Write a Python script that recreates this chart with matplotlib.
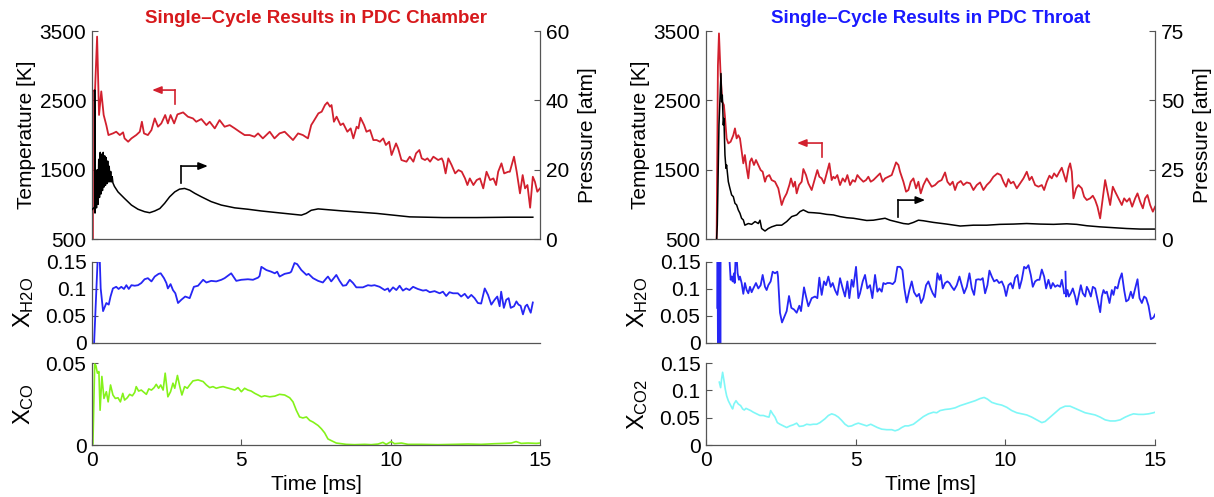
import numpy as np
import matplotlib.pyplot as plt

plt.rcParams['font.family'] = ['Liberation Sans', 'DejaVu Sans']
plt.rcParams['mathtext.fontset'] = 'custom'
plt.rcParams['mathtext.rm'] = 'Liberation Sans'
plt.rcParams['mathtext.it'] = 'Liberation Sans'

# ---------------- PDC chamber ----------------
t_T_ch = [0.03, 0.03, 0.10, 0.17, 0.235, 0.31, 0.39, 0.48, 0.55, 0.70, 0.81, 0.93, 1.04, 1.09, 1.21,
          1.32, 1.48, 1.60, 1.67, 1.74, 1.87, 1.99, 2.10, 2.21, 2.32, 2.45, 2.54, 2.63, 2.75, 2.86,
          3.05, 3.21, 3.38, 3.49, 3.66, 3.83, 3.94, 4.11, 4.27, 4.44, 4.61, 4.78, 4.94, 5.11, 5.28,
          5.44, 5.56, 5.72, 5.95, 6.11, 6.28, 6.45, 6.56, 6.73, 6.90, 7.06, 7.23, 7.34, 7.41, 7.58,
          7.69, 7.80, 7.88, 7.97, 8.02, 8.10, 8.19, 8.32, 8.41, 8.55, 8.66, 8.75, 8.86, 8.92, 8.99,
          9.11, 9.19, 9.31, 9.42, 9.53, 9.64, 9.75, 9.84, 9.95, 10.03, 10.18, 10.25, 10.36, 10.53,
          10.64, 10.76, 10.85, 10.96, 11.04, 11.15, 11.23, 11.32, 11.43, 11.59, 11.71, 11.76, 11.84,
          11.93, 12.04, 12.16, 12.27, 12.38, 12.49, 12.57, 12.65, 12.77, 12.88, 12.99, 13.10, 13.21,
          13.33, 13.44, 13.53, 13.60, 13.71, 13.80, 13.94, 13.99, 14.13, 14.22, 14.33, 14.42, 14.50,
          14.58, 14.67, 14.76, 14.83, 14.91, 15.0]
T_ch = [500, 2640, 2640, 3420, 2290, 2630, 2290, 2140, 2000, 2024, 2048, 2000, 2039, 1952, 1904,
        1952, 2000, 2048, 2192, 2024, 2000, 2072, 2240, 2120, 2168, 2289, 2168, 2289, 2168, 2298,
        2327, 2265, 2240, 2192, 2231, 2144, 2192, 2096, 2216, 2120, 2144, 2096, 2048, 2000, 2000,
        1976, 2024, 1952, 2048, 1952, 2024, 2048, 2000, 1928, 2024, 2000, 1952, 2144, 2192, 2313,
        2337, 2433, 2471, 2409, 2433, 2192, 2265, 2144, 2168, 2048, 2096, 1952, 2120, 2096, 2250,
        2144, 2048, 2072, 1928, 1928, 1904, 1952, 1856, 1904, 1712, 1880, 1808, 1640, 1616,
        1688, 1616, 1736, 1784, 1664, 1640, 1664, 1616, 1688, 1640, 1664, 1616, 1447,
        1664, 1568, 1447, 1495, 1471, 1375, 1279, 1375, 1279, 1351, 1375, 1231, 1471,
        1351, 1375, 1279, 1471, 1592, 1447, 1471, 1471, 1688, 1471, 1159, 1423, 1231,
        1279, 952, 1399, 1327, 1183, 1231]

t_P_ch = [0.00, 0.06, 0.09, 0.09, 0.10, 0.125, 0.15, 0.175, 0.20, 0.225, 0.25, 0.275, 0.30, 0.325,
          0.35, 0.375, 0.40, 0.425, 0.45, 0.475, 0.50, 0.525, 0.55, 0.575, 0.60, 0.625, 0.65, 0.675,
          0.70, 0.75, 0.87, 1.09, 1.32, 1.54, 1.76, 1.93, 2.10, 2.27, 2.43, 2.60, 2.77, 2.93, 3.10,
          3.27, 3.44, 3.66, 3.99, 4.33, 4.78, 5.22, 5.67, 6.11, 6.56, 7.01, 7.17, 7.34, 7.57, 8.41,
          9.53, 10.64, 11.76, 12.88, 13.99, 14.76]
P_ch = [8.5, 9.0, 9.2, 43.0, 7.5, 14, 9, 20, 10, 23, 12, 25, 13, 24.5,
        14, 25, 15, 24, 15.5, 23.5, 16, 22.5, 16.5, 21, 16.5, 19.5, 16.5, 18,
        16.2, 15.2, 13.6, 11.7, 9.8, 8.6, 7.9, 7.6, 8.1, 8.8, 10.3, 12.2, 13.6, 14.4, 14.6,
        14.1, 13.2, 12.2, 10.8, 9.8, 9.0, 8.6, 8.1, 7.7, 7.3, 6.9, 7.4, 8.3, 8.7, 8.1,
        7.4, 6.4, 6.2, 6.2, 6.3, 6.3]

t_h2o_ch = [0.07, 0.20, 0.25, 0.29, 0.37, 0.48, 0.56, 0.62, 0.70, 0.81, 0.89, 0.98, 1.07, 1.15, 1.23,
            1.32, 1.43, 1.54, 1.65, 1.76, 1.87, 1.99, 2.10, 2.23, 2.30, 2.41, 2.49, 2.54, 2.63, 2.71,
            2.79, 2.88, 2.99, 3.12, 3.27, 3.41, 3.55, 3.72, 3.83, 3.99, 4.16, 4.33, 4.44, 4.66, 4.83,
            5.00, 5.22, 5.39, 5.56, 5.61, 5.67, 5.84, 6.00, 6.12, 6.20, 6.28, 6.45, 6.62, 6.67, 6.78,
            6.87, 7.01, 7.18, 7.25, 7.40, 7.57, 7.73, 7.85, 7.90, 8.01, 8.18, 8.29, 8.40, 8.51, 8.63,
            8.74, 8.85, 9.07, 9.24, 9.35, 9.46, 9.63, 9.80, 9.91, 9.96, 10.08, 10.19, 10.30, 10.41,
            10.52, 10.63, 10.75, 10.91, 11.08, 11.19, 11.31, 11.47, 11.64, 11.75, 11.86, 11.97, 12.09,
            12.25, 12.36, 12.48, 12.59, 12.70, 12.81, 12.92, 13.03, 13.15, 13.26, 13.37, 13.48, 13.57,
            13.65, 13.70, 13.79, 13.87, 13.95, 14.02, 14.13, 14.21, 14.28, 14.35, 14.43, 14.51, 14.57,
            14.69, 14.76]
h2o_ch = [0.0, 0.17, 0.17, 0.101, 0.059, 0.074, 0.071, 0.086, 0.101, 0.104, 0.100, 0.104, 0.100, 0.107, 0.100,
          0.107, 0.106, 0.107, 0.111, 0.118, 0.120, 0.114, 0.123, 0.128, 0.129, 0.120, 0.111, 0.101, 0.109, 0.098,
          0.092, 0.074, 0.080, 0.086, 0.083, 0.104, 0.106, 0.117, 0.112, 0.115, 0.114, 0.117, 0.120, 0.129, 0.115,
          0.117, 0.118, 0.117, 0.121, 0.124, 0.141, 0.135, 0.132, 0.129, 0.132, 0.123, 0.128, 0.130, 0.132, 0.148,
          0.146, 0.135, 0.126, 0.128, 0.120, 0.115, 0.112, 0.120, 0.123, 0.114, 0.126, 0.115, 0.106, 0.107, 0.117,
          0.111, 0.103, 0.103, 0.107, 0.106, 0.107, 0.104, 0.098, 0.101, 0.095, 0.103, 0.098, 0.106, 0.097,
          0.101, 0.098, 0.104, 0.100, 0.097, 0.098, 0.094, 0.096, 0.092, 0.095, 0.087, 0.094, 0.092,
          0.092, 0.086, 0.091, 0.083, 0.089, 0.083, 0.074, 0.073, 0.101, 0.089, 0.071, 0.080, 0.086,
          0.068, 0.095, 0.065, 0.080, 0.083, 0.065, 0.068, 0.077, 0.071, 0.069, 0.053, 0.068, 0.071,
          0.056, 0.075]

t_co_ch = [0.00, 0.03, 0.09, 0.13, 0.18, 0.23, 0.27, 0.33, 0.40, 0.48, 0.54, 0.62, 0.70, 0.78, 0.87,
           0.95, 1.03, 1.09, 1.18, 1.26, 1.35, 1.43, 1.48, 1.56, 1.65, 1.74, 1.82, 1.90, 1.99, 2.08,
           2.15, 2.23, 2.30, 2.38, 2.45, 2.54, 2.63, 2.71, 2.77, 2.86, 2.94, 3.01, 3.10, 3.19, 3.27,
           3.38, 3.55, 3.72, 3.83, 3.94, 4.05, 4.16, 4.27, 4.39, 4.50, 4.66, 4.78, 4.89, 5.00, 5.11,
           5.22, 5.33, 5.45, 5.56, 5.67, 5.78, 5.95, 6.12, 6.28, 6.45, 6.62, 6.73, 6.84, 6.95, 7.06,
           7.18, 7.29, 7.40, 7.57, 7.68, 7.79, 7.90, 8.01, 8.18, 8.35, 8.51, 8.79, 9.13, 9.35, 9.58,
           9.74, 9.85, 10.02, 10.13, 10.36, 10.58, 11.03, 11.58, 12.14, 12.59, 13.03, 13.48, 13.82,
           14.04, 14.20, 14.37, 14.60, 14.88, 14.99]
co_ch = [0.0, 0.0006, 0.0494, 0.0484, 0.0438, 0.0448, 0.0212, 0.0418, 0.0284, 0.0325, 0.0263, 0.0366,
         0.0305, 0.0284, 0.0288, 0.0263, 0.0315, 0.0274, 0.0288, 0.0309, 0.0300, 0.0321, 0.0356, 0.0329,
         0.0335, 0.0321, 0.0309, 0.0342, 0.0335, 0.0350, 0.0370, 0.0346, 0.0366, 0.0335, 0.0438, 0.0294,
         0.0325, 0.0377, 0.0346, 0.0424, 0.0356, 0.0305, 0.0356, 0.0346, 0.0366, 0.0391, 0.0397, 0.0387,
         0.0366, 0.0350, 0.0356, 0.0346, 0.0352, 0.0356, 0.0350, 0.0342, 0.0335, 0.0350, 0.0325, 0.0346,
         0.0335, 0.0329, 0.0315, 0.0305, 0.0294, 0.0300, 0.0294, 0.0298, 0.0309, 0.0305, 0.0288, 0.0263,
         0.0212, 0.0171, 0.0165, 0.0171, 0.0150, 0.0140, 0.0119, 0.0099, 0.0074, 0.0037, 0.0027, 0.0012,
         0.0008, 0.0004, 0.0002, 0.0004, 0.0002, 0.0006, 0.0016, 0.0004, 0.0021, 0.0008, 0.0012, 0.0004,
         0.0004, 0.0002, 0.0004, 0.0006, 0.0004, 0.0008, 0.0010, 0.0012, 0.0021, 0.0010, 0.0012, 0.0010,
         0.0012]

# ---------------- PDC throat ----------------
t_T_th = [0.357, 0.40, 0.435, 0.49, 0.546, 0.60, 0.635, 0.69, 0.747, 0.825, 0.914, 0.969, 1.025, 1.08,
          1.136, 1.19, 1.248, 1.30, 1.36, 1.415, 1.47, 1.526, 1.604, 1.671, 1.749, 1.827, 1.894,
          1.972, 2.027, 2.117, 2.194, 2.306, 2.417, 2.529, 2.607, 2.696, 2.785, 2.84, 2.918, 2.974,
          3.03, 3.108, 3.197, 3.253, 3.342, 3.42, 3.531, 3.642, 3.72, 3.787, 3.865, 3.943, 4.032,
          4.121, 4.199, 4.255, 4.31, 4.388, 4.478, 4.567, 4.645, 4.723, 4.812, 4.901, 4.979, 5.057,
          5.146, 5.257, 5.346, 5.424, 5.502, 5.591, 5.703, 5.814, 5.903, 5.981, 6.092, 6.204, 6.282,
          6.349, 6.427, 6.482, 6.594, 6.683, 6.761, 6.839, 6.928, 7.017, 7.095, 7.173, 7.262, 7.373,
          7.54, 7.65, 7.76, 7.87, 7.985, 8.063, 8.152, 8.241, 8.319, 8.397, 8.509, 8.598, 8.709,
          8.821, 8.932, 9.043, 9.155, 9.266, 9.377, 9.489, 9.60, 9.734, 9.845, 9.934, 10.023, 10.10,
          10.179, 10.268, 10.38, 10.491, 10.603, 10.714, 10.803, 10.881, 10.992, 11.104, 11.215,
          11.293, 11.382, 11.471, 11.549, 11.627, 11.716, 11.805, 11.883, 11.961, 12.028, 12.106,
          12.162, 12.217, 12.273, 12.362, 12.44, 12.551, 12.629, 12.718, 12.83, 12.919, 12.997,
          13.075, 13.164, 13.253, 13.331, 13.409, 13.498, 13.587, 13.665, 13.776, 13.888, 13.966,
          14.055, 14.144, 14.233, 14.333, 14.411, 14.50, 14.59, 14.667, 14.745, 14.834, 14.924, 15.0]
T_th = [500, 3000, 3466, 2865, 2481, 2433, 2265, 1952, 1880, 1904, 1998, 2096, 1952, 1998,
        1952, 1784, 1592, 1712, 1519, 1375, 1616, 1664, 1568, 1640, 1568, 1495, 1471,
        1327, 1399, 1423, 1351, 1327, 1231, 991, 1087, 1159, 1279, 1375, 1255, 1327,
        1159, 1279, 1327, 1510, 1423, 1303, 1207, 1375, 1495, 1399, 1375, 1303, 1447,
        1592, 1351, 1399, 1375, 1423, 1279, 1375, 1327, 1423, 1279, 1351, 1327, 1423,
        1375, 1327, 1351, 1399, 1327, 1351, 1399, 1447, 1327, 1375, 1399, 1423, 1519,
        1606, 1568, 1471, 1327, 1183, 1207, 1327, 1375, 1231, 1327, 1159, 1279, 1375,
        1255, 1279, 1327, 1351, 1461, 1327, 1279, 1327, 1207, 1303, 1337, 1279, 1317,
        1303, 1207, 1279, 1317, 1207, 1279, 1327, 1399, 1447, 1423, 1327, 1255, 1365,
        1303, 1327, 1231, 1303, 1375, 1471, 1351, 1399, 1279, 1255, 1279,
        1207, 1327, 1414, 1375, 1447, 1399, 1471, 1529, 1423, 1327, 1519,
        1592, 1471, 1087, 1231, 1279, 1231, 1111, 1063, 1087, 1125, 1063,
        967, 798, 1087, 1351, 1183, 991, 1255, 1183, 1087, 991, 1087,
        1039, 1087, 967, 1087, 1159, 1039, 943, 1087, 1135, 991, 895, 967]

t_P_th = [0.357, 0.379, 0.435, 0.502, 0.524, 0.546, 0.58, 0.60, 0.635, 0.669, 0.69, 0.747, 0.80,
          0.858, 0.914, 0.969, 1.025, 1.08, 1.136, 1.19, 1.248, 1.30, 1.415, 1.526, 1.64, 1.749,
          1.805, 1.86, 1.972, 2.083, 2.194, 2.36, 2.53, 2.696, 2.863, 3.03, 3.141, 3.253, 3.42,
          3.587, 3.81, 4.032, 4.255, 4.478, 4.70, 4.923, 5.146, 5.369, 5.591, 5.814, 5.981, 6.148,
          6.371, 6.594, 6.761, 6.928, 7.095, 7.262, 7.484, 7.60, 8.04, 8.49, 8.93, 9.38, 9.82,
          10.27, 10.71, 11.16, 11.61, 12.05, 12.38, 12.72, 13.16, 13.61, 14.05, 14.5, 15.0]
P_th = [0.2, 5.0, 41.1, 59.7, 49.5, 51.9, 41.1, 43.5, 30.3, 25.5, 26.7, 20.7, 18.3,
        15.9, 15.3, 12.9, 12.3, 10.5, 9.3, 7.5, 6.9, 5.0, 5.6, 5.3, 6.3, 5.6,
        6.8, 3.8, 2.9, 3.8, 4.4, 5.0, 5.0, 6.3, 8.1, 8.7, 9.9, 10.5, 9.6,
        9.5, 9.3, 8.9, 8.7, 8.1, 7.7, 7.5, 7.1, 6.7, 6.8, 7.2, 7.5, 6.8,
        6.2, 5.6, 5.4, 6.0, 6.8, 6.6, 6.2, 6.0, 5.4, 4.7, 5.0, 5.0, 5.3,
        5.4, 5.6, 5.4, 5.3, 5.5, 5.3, 4.8, 4.4, 4.1, 3.8, 3.6, 3.6]

t_h2o_th = [0.38, 0.39, 0.40, 0.41, 0.42, 0.43, 0.44, 0.45, 0.46, 0.47, 0.48, 0.49, 0.60, 0.78,
            0.825, 0.858, 0.891, 0.936, 0.958, 0.992, 1.025, 1.058, 1.103, 1.136, 1.192, 1.248,
            1.303, 1.359, 1.415, 1.471, 1.526, 1.582, 1.671, 1.749, 1.827, 1.894, 1.972, 2.027,
            2.083, 2.161, 2.228, 2.306, 2.384, 2.406, 2.473, 2.54, 2.607, 2.696, 2.774, 2.852,
            2.941, 3.03, 3.119, 3.175, 3.275, 3.342, 3.42, 3.531, 3.642, 3.72, 3.787, 3.865, 3.943,
            4.01, 4.088, 4.166, 4.233, 4.31, 4.388, 4.478, 4.567, 4.645, 4.723, 4.789, 4.867, 4.923,
            5.012, 5.09, 5.146, 5.235, 5.313, 5.391, 5.48, 5.558, 5.647, 5.725, 5.792, 5.87, 5.925,
            5.992, 6.059, 6.148, 6.237, 6.315, 6.393, 6.482, 6.56, 6.627, 6.705, 6.794, 6.872, 6.95,
            7.039, 7.117, 7.184, 7.262, 7.351, 7.429, 7.507, 7.574, 7.652, 7.73, 7.797, 7.841, 7.908,
            7.986, 8.064, 8.131, 8.208, 8.286, 8.376, 8.465, 8.543, 8.621, 8.71, 8.799, 8.877, 8.955,
            9.022, 9.099, 9.177, 9.244, 9.322, 9.40, 9.467, 9.545, 9.623, 9.712, 9.79, 9.879, 9.957,
            10.024, 10.102, 10.18, 10.247, 10.325, 10.403, 10.47, 10.547, 10.625, 10.692, 10.77,
            10.848, 10.915, 10.993, 11.071, 11.138, 11.216, 11.294, 11.36, 11.438, 11.516, 11.583,
            11.661, 11.739, 11.828, 11.884, 11.939, 11.962, 11.98, 12.006, 12.028, 12.073, 12.117,
            12.184, 12.251, 12.329, 12.385, 12.441, 12.519, 12.585, 12.663, 12.719, 12.775, 12.853,
            12.92, 12.998, 13.076, 13.165, 13.22, 13.276, 13.332, 13.387, 13.476, 13.554, 13.61,
            13.666, 13.744, 13.81, 13.888, 13.966, 14.033, 14.111, 14.189, 14.256, 14.334, 14.412,
            14.479, 14.557, 14.635, 14.701, 14.779, 14.857, 14.946, 15.0]
h2o_th = [0.065, 0.17, 0.0, 0.17, 0.0, 0.17, 0.0, 0.17, 0.0, 0.17, 0.0, 0.17, 0.2, 0.16,
          0.117, 0.123, 0.114, 0.129, 0.111, 0.16, 0.16, 0.129, 0.117, 0.123, 0.111, 0.091,
          0.111, 0.098, 0.092, 0.104, 0.094, 0.101, 0.111, 0.101, 0.107, 0.126, 0.104, 0.098,
          0.107, 0.114, 0.132, 0.129, 0.132, 0.123, 0.056, 0.038, 0.047, 0.059, 0.087, 0.065,
          0.062, 0.056, 0.069, 0.059, 0.103, 0.086, 0.068, 0.083, 0.086, 0.083, 0.121, 0.089, 0.114,
          0.107, 0.123, 0.104, 0.111, 0.098, 0.089, 0.120, 0.101, 0.086, 0.114, 0.083, 0.117, 0.104,
          0.141, 0.083, 0.092, 0.114, 0.126, 0.101, 0.107, 0.083, 0.126, 0.095, 0.101, 0.095, 0.111,
          0.109, 0.111, 0.111, 0.109, 0.114, 0.141, 0.141, 0.135, 0.101, 0.075, 0.098, 0.114, 0.094,
          0.086, 0.091, 0.074, 0.083, 0.107, 0.114, 0.101, 0.092, 0.085, 0.129, 0.117, 0.126, 0.101,
          0.111, 0.114, 0.111, 0.104, 0.098, 0.107, 0.123, 0.107, 0.092, 0.104, 0.129, 0.101, 0.089,
          0.117, 0.118, 0.117, 0.120, 0.092, 0.107, 0.134, 0.123, 0.114, 0.117, 0.111, 0.114, 0.104,
          0.087, 0.107, 0.111, 0.101, 0.121, 0.126, 0.101, 0.117, 0.141, 0.138, 0.144,
          0.126, 0.104, 0.114, 0.117, 0.117, 0.136, 0.123, 0.101, 0.117, 0.101, 0.111,
          0.104, 0.107, 0.104, 0.117, 0.101, 0.092, np.nan, 0.132, 0.086, 0.098, 0.086,
          0.092, 0.101, 0.086, 0.071, 0.086, 0.107, 0.092, 0.086, 0.104, 0.098, 0.086,
          0.104, 0.101, 0.080, 0.057, 0.086, 0.098, 0.092, 0.095, 0.074, 0.098, 0.089,
          0.104, 0.101, 0.117, 0.129, 0.098, 0.077, 0.080, 0.095, 0.083, 0.101, 0.118,
          0.083, 0.074, 0.086, 0.083, 0.069, 0.044, 0.047, 0.053]

t_co2_th = [0.446, 0.49, 0.524, 0.557, 0.602, 0.646, 0.691, 0.747, 0.802, 0.858, 0.891, 0.936, 1.003,
            1.081, 1.159, 1.226, 1.281, 1.337, 1.415, 1.493, 1.582, 1.693, 1.805, 1.916, 2.027, 2.105,
            2.161, 2.228, 2.306, 2.384, 2.473, 2.584, 2.696, 2.807, 2.918, 3.03, 3.119, 3.253, 3.364,
            3.475, 3.587, 3.698, 3.809, 3.976, 4.088, 4.199, 4.31, 4.422, 4.533, 4.645, 4.756, 4.867,
            4.979, 5.09, 5.257, 5.369, 5.502, 5.614, 5.725, 5.87, 6.037, 6.204, 6.315, 6.427, 6.538,
            6.649, 6.761, 6.928, 7.095, 7.262, 7.429, 7.596, 7.707, 7.819, 7.986, 8.153, 8.32, 8.487,
            8.654, 8.821, 8.988, 9.155, 9.289, 9.40, 9.545, 9.712, 9.879, 10.046, 10.213, 10.38,
            10.547, 10.714, 10.881, 11.048, 11.216, 11.327, 11.494, 11.661, 11.828, 11.995, 12.162,
            12.329, 12.496, 12.663, 12.83, 12.997, 13.165, 13.332, 13.499, 13.666, 13.833, 14.0,
            14.167, 14.278, 14.445, 14.612, 14.779, 14.946, 15.0]
co2_th = [0.115, 0.105, 0.121, 0.133, 0.118, 0.102, 0.090, 0.081, 0.075, 0.069, 0.066, 0.075, 0.081,
          0.075, 0.072, 0.066, 0.064, 0.067, 0.065, 0.063, 0.060, 0.057, 0.054, 0.054, 0.052, 0.051,
          0.063, 0.057, 0.051, 0.041, 0.038, 0.035, 0.032, 0.035, 0.037, 0.040, 0.034, 0.035, 0.038,
          0.037, 0.038, 0.038, 0.041, 0.048, 0.054, 0.057, 0.055, 0.051, 0.045, 0.038, 0.034, 0.035,
          0.038, 0.040, 0.037, 0.035, 0.038, 0.035, 0.032, 0.029, 0.028, 0.028, 0.026, 0.028, 0.032,
          0.035, 0.035, 0.038, 0.045, 0.052, 0.057, 0.060, 0.059, 0.063, 0.065, 0.066, 0.068, 0.072,
          0.075, 0.078, 0.081, 0.085, 0.087, 0.084, 0.078, 0.075, 0.073, 0.069, 0.063, 0.059,
          0.057, 0.055, 0.051, 0.046, 0.041, 0.043, 0.051, 0.059, 0.067, 0.071, 0.071,
          0.067, 0.063, 0.059, 0.057, 0.055, 0.051, 0.046, 0.044, 0.044, 0.046, 0.051,
          0.055, 0.057, 0.056, 0.056, 0.057, 0.059, 0.060]

# L-shaped arrows: (colour, x of stem, stem bottom, stem top, x of tip) in temperature units
arrows_ch = [('#d2202e', 2.78, 2447, 2649, 2.01), ('black', 2.98, 1308, 1553, 3.88)]
arrows_th = [('#d2202e', 3.875, 1683, 1885, 3.04), ('black', 6.41, 817, 1062, 7.32)]

RED = '#d2202e'
SPINE = '#555555'
FS = 15

fig = plt.figure(figsize=(12.14, 4.97), dpi=100)


def style(ax, show):
    for s in ['top', 'bottom', 'left', 'right']:
        ax.spines[s].set_visible(s in show)
        ax.spines[s].set_color(SPINE)
        ax.spines[s].set_linewidth(0.9)
    ax.tick_params(direction='in', length=4, width=0.8, color=SPINE, labelsize=FS, pad=4)


def column(x0, w, title, tcol, tT, T, tP, P, pmax, pticks, tX1, X1, tX2, X2, lab2, c2, y2max, y2ticks,
           y2labels, arrows):
    ax = fig.add_axes([x0, 0.519, w, 0.4185])
    ax.plot(tT, T, color=RED, lw=1.3)
    ax.set_xlim(0, 15)
    ax.set_ylim(500, 3500)
    ax.set_yticks([500, 1500, 2500, 3500])
    ax.set_xticks([])
    style(ax, ['left', 'bottom'])
    ax.set_ylabel('Temperature [K]', fontsize=15)
    ax.yaxis.set_label_coords(-0.125, 0.5)
    ax.set_title(title, color=tcol, fontweight='bold', fontsize=13.5, pad=6)
    for c, xs, yb, yt, xtip in arrows:
        ax.plot([xs, xs], [yb, yt], color=c, lw=1.2)
        ax.annotate('', xy=(xtip, yt), xytext=(xs, yt),
                    arrowprops=dict(arrowstyle='-|>,head_length=0.55,head_width=0.22', color=c, lw=1.2,
                                    shrinkA=0, shrinkB=0))
    ax2 = ax.twinx()
    ax2.plot(tP, P, color='black', lw=1.1)
    ax2.set_ylim(0, pmax)
    ax2.set_yticks(pticks)
    ax2.set_xlim(0, 15)
    style(ax2, ['right'])
    ax2.set_ylabel('Pressure [atm]', fontsize=15)
    ax2.yaxis.set_label_coords(1.085, 0.5)

    axm = fig.add_axes([x0, 0.3099, w, 0.163])
    axm.plot(tX1, X1, color='#2626f5', lw=1.3)
    axm.set_xlim(0, 15)
    axm.set_ylim(0, 0.15)
    axm.set_yticks([0, 0.05, 0.1, 0.15])
    axm.set_yticklabels(['0', '0.05', '0.1', '0.15'])
    axm.set_xticks([])
    style(axm, ['left', 'bottom'])
    axm.set_ylabel(r'X$_{\mathrm{H2O}}$', fontsize=17)
    axm.yaxis.set_label_coords(-0.125, 0.5)

    axb = fig.add_axes([x0, 0.1046, w, 0.165])
    axb.plot(tX2, X2, color=c2, lw=1.2)
    axb.set_xlim(0, 15)
    axb.set_ylim(0, y2max)
    axb.set_yticks(y2ticks)
    axb.set_yticklabels(y2labels)
    axb.set_xticks([0, 5, 10, 15])
    style(axb, ['left', 'bottom'])
    axb.set_ylabel(lab2, fontsize=17)
    axb.yaxis.set_label_coords(-0.125, 0.5)
    axb.set_xlabel('Time [ms]', fontsize=15, labelpad=4)


column(0.0758, 0.369, 'Single\u2013Cycle Results in PDC Chamber', '#d7191c',
       t_T_ch, T_ch, t_P_ch, P_ch, 60, [0, 20, 40, 60],
       t_h2o_ch, h2o_ch, t_co_ch, co_ch, r'X$_{\mathrm{CO}}$', '#84f21a', 0.05, [0, 0.05], ['0', '0.05'],
       arrows_ch)
column(0.5815, 0.370, 'Single\u2013Cycle Results in PDC Throat', '#1a1aff',
       t_T_th, T_th, t_P_th, P_th, 75, [0, 25, 50, 75],
       t_h2o_th, h2o_th, t_co2_th, co2_th, r'X$_{\mathrm{CO2}}$', '#7ff7f7', 0.15, [0, 0.05, 0.1, 0.15],
       ['0', '0.05', '0.1', '0.15'], arrows_th)

fig.savefig('out.png', dpi=100)
